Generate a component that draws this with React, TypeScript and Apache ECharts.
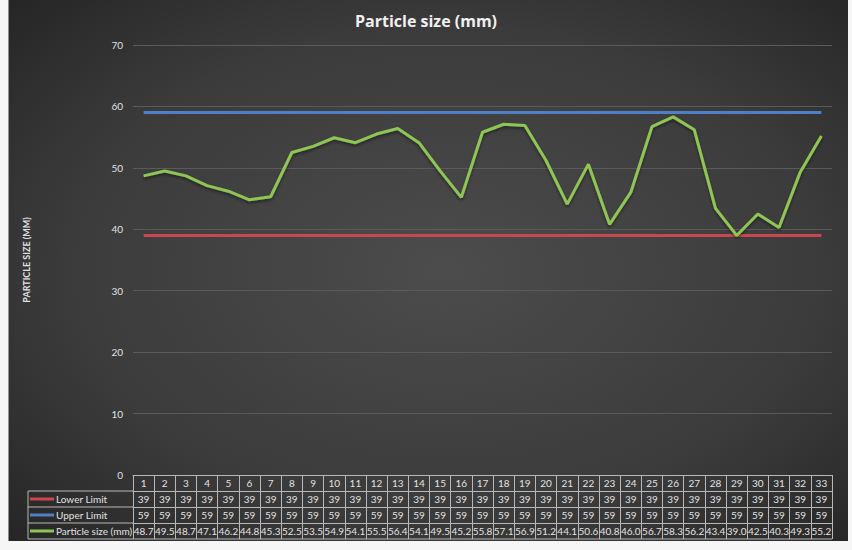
import React, { useEffect, useRef } from "react";
import * as echarts from "echarts";

const categories = ["1","2","3","4","5","6","7","8","9","10","11","12","13","14","15","16","17","18","19","20","21","22","23","24","25","26","27","28","29","30","31","32","33"];
const lowerLimit = [39,39,39,39,39,39,39,39,39,39,39,39,39,39,39,39,39,39,39,39,39,39,39,39,39,39,39,39,39,39,39,39,39];
const upperLimit = [59,59,59,59,59,59,59,59,59,59,59,59,59,59,59,59,59,59,59,59,59,59,59,59,59,59,59,59,59,59,59,59,59];
const particleSize = [48.7,49.5,48.7,47.1,46.2,44.8,45.3,52.5,53.5,54.9,54.1,55.5,56.4,54.1,49.5,45.2,55.8,57.1,56.9,51.2,44.1,50.6,40.8,46.0,56.7,58.3,56.2,43.4,39.0,42.5,40.3,49.3,55.2];
const seriesNames = ["Lower Limit", "Upper Limit", "Particle size (mm)"];
const seriesColors = ["#c9484d", "#4e7fc7", "#8fc555"];

const FONT = "Lato, 'Open Sans', sans-serif";
const TXT = "#e2e2e2";
const BORDER = "#b8b8b8";

export default function App() {
  const ref = useRef<HTMLDivElement>(null);
  useEffect(() => {
    if (!ref.current) return;
    const chart = echarts.init(ref.current, null, { renderer: "svg" });
    const gridLeft = 133, gridRight = 20, gridTop = 45, gridBottom = 75;
    const W = 852, H = 550;
    const axisY = H - gridBottom;
    const rowH = 16;
    const rows = [lowerLimit, upperLimit, particleSize];

    const tableAxis = (idx: number) => ({
      type: "category",
      gridIndex: 0,
      position: "bottom",
      offset: idx * rowH,
      data: categories,
      boundaryGap: true,
      axisLine: { show: true, lineStyle: { color: BORDER, width: 1 } },
      axisTick: { show: true, interval: 0, length: rowH, lineStyle: { color: BORDER, width: 1 } },
      axisLabel: {
        show: true,
        interval: 0,
        margin: 8,
        verticalAlign: "middle",
        color: TXT,
        fontSize: 10,
        fontFamily: FONT,
        formatter: (v: string, i: number) => {
          if (idx === 0) return v;
          const arr = rows[idx - 1];
          return idx === 3 ? arr[i].toFixed(1) : String(arr[i]);
        },
      },
      splitLine: { show: false },
    });

    const legendGraphics: any[] = [];
    const tableLeft = 28;
    for (let r = 0; r < 4; r++) {
      const y = axisY + rowH * (r + 1);
      legendGraphics.push({
        type: "line",
        shape: { x1: tableLeft, y1: y, x2: r === 3 ? W - gridRight : gridLeft, y2: y },
        style: { stroke: BORDER, lineWidth: 1 },
      });
    }
    legendGraphics.push({
      type: "line",
      shape: { x1: tableLeft, y1: axisY + rowH, x2: tableLeft, y2: axisY + rowH * 4 },
      style: { stroke: BORDER, lineWidth: 1 },
    });
    seriesNames.forEach((n, i) => {
      const cy = axisY + rowH * (i + 1) + rowH / 2;
      legendGraphics.push({
        type: "line",
        shape: { x1: 30, y1: cy, x2: 54, y2: cy },
        style: { stroke: seriesColors[i], lineWidth: 3 },
      });
      legendGraphics.push({
        type: "text",
        x: 56,
        y: cy,
        style: { text: n, fill: TXT, fontSize: 10, fontFamily: FONT, verticalAlign: "middle", align: "left" },
      });
    });

    const option: any = {
      animation: false,
      backgroundColor: "#f6f6f6",
      title: {
        text: "Particle size (mm)",
        left: "center",
        top: 8,
        textStyle: { color: "#f0f0f0", fontSize: 16, fontWeight: "bold", fontFamily: "'Open Sans', Lato, sans-serif" },
      },
      graphic: [
        {
          type: "rect",
          z: -10,
          silent: true,
          shape: { x: 8.5, y: 0, width: 839.5, height: 541 },
          style: {
            fill: new echarts.graphic.RadialGradient(0.52, 0.5, 0.75, [
              { offset: 0, color: "#4c4c4c" },
              { offset: 0.6, color: "#3b3b3b" },
              { offset: 1, color: "#232323" },
            ]),
          },
        },
        ...legendGraphics,
      ],
      grid: { left: gridLeft, right: gridRight, top: gridTop, bottom: gridBottom, containLabel: false },
      xAxis: [tableAxis(0), tableAxis(1), tableAxis(2), tableAxis(3)],
      yAxis: {
        type: "value",
        min: 0,
        max: 70,
        interval: 10,
        name: "PARTICLE SIZE (MM)",
        nameLocation: "middle",
        nameGap: 102,
        nameRotate: 90,
        nameTextStyle: { color: TXT, fontSize: 9, fontWeight: "bold", fontFamily: FONT },
        axisLine: { show: false },
        axisTick: { show: false },
        axisLabel: { color: TXT, fontSize: 10, fontFamily: FONT, margin: 10 },
        splitLine: { lineStyle: { color: "#5a5a5a", width: 1 } },
      },
      series: [lowerLimit, upperLimit, particleSize].map((d, i) => ({
        name: seriesNames[i],
        type: "line",
        xAxisIndex: 0,
        data: d,
        symbol: "none",
        lineStyle: i === 2
          ? { color: seriesColors[i], width: 3, shadowColor: "rgba(0,0,0,0.45)", shadowBlur: 3, shadowOffsetY: 2 }
          : { color: seriesColors[i], width: 3 },
        itemStyle: { color: seriesColors[i] },
        z: 3,
      })),
    };
    chart.setOption(option);
    return () => chart.dispose();
  }, []);
  return <div ref={ref} style={{ position: "absolute", left: 0, top: 0, width: 852, height: 550 }} />;
}
